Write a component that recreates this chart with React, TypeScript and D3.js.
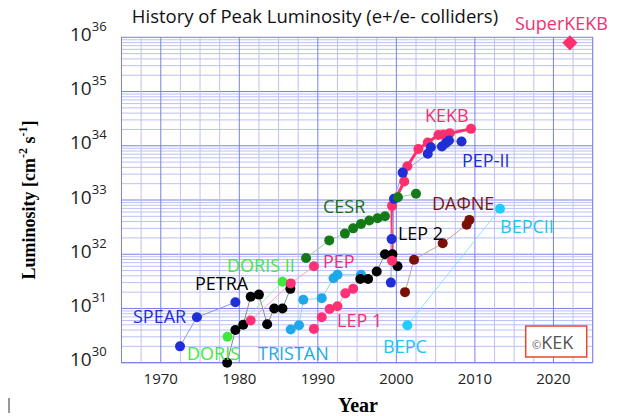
import React from "react";
import * as d3 from "d3";

// peak luminosity per machine: [year, cm^-2 s^-1]
const SPEAR = [[1972.45, 2e30], [1974.6, 6.9e30], [1979.5, 1.3e31]];
const DORIS = [[1978.5, 3e30], [1985.5, 3.1e31]];
const PETRA = [
	[1978.45, 1e30], [1979.5, 4e30], [1980.5, 5e30], [1981.45, 1.65e31], [1982.5, 1.8e31],
	[1983.55, 5.1e30], [1984.45, 1e31], [1985.5, 1e31], [1986.5, 2.3e31],
];
const PEP = [[1981.45, 6e30], [1986.55, 2.9e31], [1989.5, 6e31]];
const CESR = [
	[1988.5, 8.5e31], [1991.45, 1.8e32], [1993.45, 2.4e32], [1994.5, 3e32], [1995.5, 3.6e32],
	[1996.55, 4.2e32], [1997.6, 4.6e32], [1998.55, 5e32], [2000.2, 1.12e33], [2002.5, 1.3e33],
];
const TRISTAN = [
	[1986.55, 4.1e30], [1987.6, 4.9e30], [1988.15, 1.45e31], [1990.5, 1.55e31],
	[1992.0, 3.6e31], [1992.5, 4.2e31], [1995.5, 4.2e31],
];
const LEP1 = [[1989.5, 4.2e30], [1990.5, 6.9e30], [1991.5, 9.8e30], [1992.5, 1.1e31], [1993.5, 1.9e31], [1994.5, 2.3e31]];
const LEP2 = [[1995.4, 3.5e31], [1996.4, 3.5e31], [1997.5, 4.8e31], [1998.55, 1e32], [1999.5, 1e32], [2000.15, 6e31]];
const KEKB = [
	[1999.45, 7.6e31], [1999.45, 7.8e32], [2001.0, 2.2e33], [2001.4, 4.2e33], [2002.8, 8.7e33],
	[2004.0, 1.15e34], [2005.35, 1.58e34], [2006.0, 1.6e34], [2006.8, 1.7e34], [2009.5, 2.05e34],
];
const PEPII = [
	[1999.3, 3e31], [1999.4, 1.9e32], [1999.7, 1.05e33], [2000.8, 3.2e33], [2004.0, 7.1e33],
	[2004.4, 9.4e33], [2005.8, 9.7e33], [2006.3, 1.12e34], [2006.7, 1.25e34], [2008.3, 1.2e34],
];
const DAPHNE = [[2001.1, 2e31], [2002.25, 7.9e31], [2005.9, 1.6e32], [2008.95, 3.5e32], [2009.3, 4.3e32]];
const BEPC = [[2001.4, 4.9e30], [2013.2, 6.9e32]];
const SUPERKEKB = [[2022.1, 7.9e35]];

const yearTicks = [1970, 1980, 1990, 2000, 2010, 2020];
const decades = [30, 31, 32, 33, 34, 35, 36];

// label anchors in data coordinates (left edge, baseline)
const labels = [
	{ text: "SuperKEKB", year: 2015.1, lum: 1.36e36, color: "#f5306e" },
	{ text: "KEKB", year: 2003.65, lum: 2.75e34, color: "#f5306e" },
	{ text: "PEP-II", year: 2008.36, lum: 4.1e33, color: "#1f2ed6" },
	{ text: "CESR", year: 1990.66, lum: 5.8e32, color: "#16701a" },
	{ text: "DAΦNE", year: 2004.54, lum: 6.6e32, color: "#7a1410" },
	{ text: "BEPCII", year: 2013.2, lum: 2.5e32, color: "#22c4f8" },
	{ text: "LEP 2", year: 2000.2, lum: 1.85e32, color: "#000" },
	{ text: "DORIS II", year: 1978.43, lum: 4.8e31, color: "#3ee83e" },
	{ text: "PEP", year: 1990.66, lum: 5.6e31, color: "#f5306e" },
	{ text: "PETRA", year: 1974.36, lum: 2.2e31, color: "#000" },
	{ text: "SPEAR", year: 1966.46, lum: 5.5e30, color: "#1f2ed6" },
	{ text: "LEP 1", year: 1992.44, lum: 4.6e30, color: "#f5306e" },
	{ text: "DORIS", year: 1973.34, lum: 1.14e30, color: "#3ee83e" },
	{ text: "TRISTAN", year: 1982.38, lum: 1.14e30, color: "#1ea8ea" },
	{ text: "BEPC", year: 1998.3, lum: 1.53e30, color: "#22c4f8" },
];

const series = [
	{ data: SPEAR, dot: "#1f2ed6", line: "#8c94ee", lw: 1 },
	{ data: DORIS, dot: "#3ee83e", line: "#a6f0a6", lw: 1 },
	{ data: PETRA, dot: "#000", line: "#8a8a8a", lw: 1 },
	{ data: PEP, dot: "#ff2f78", line: "#ffa0bf", lw: 1 },
	{ data: TRISTAN, dot: "#1ea8ea", line: "#8fd3f5", lw: 1 },
	{ data: LEP1, dot: "#ff2f78", line: "#ffa0bf", lw: 1 },
	{ data: LEP2, dot: "#000", line: "#8a8a8a", lw: 1 },
	{ data: DAPHNE, dot: "#7a1008", line: "#c8a09c", lw: 1 },
	{ data: BEPC, dot: "#22ccff", line: "#8fe2ff", lw: 1 },
	{ data: KEKB, dot: "#ff2f6e", line: "#ff2f6e", lw: 3 },
	{ data: PEPII, dot: "#1f2ed6", line: "#97a2ee", lw: 1 },
	{ data: CESR, dot: "#137a16", line: "#9ccc9c", lw: 1 },
];

const x = d3.scaleLinear().domain([1965, 2025]).range([121.5, 592.7]);
const y = d3.scaleLog().domain([1e30, 1e36]).range([362.7, 37.3]);

const line = d3
	.line<number[]>()
	.x((d) => x(d[0]))
	.y((d) => y(d[1]));

const sans = "'Open Sans', 'Noto Sans', sans-serif";

export default function App() {
	const [x0, x1] = x.range();
	const [y0, y1] = y.range();
	const vGrid = d3.range(1965, 2025.01, 2.5);
	const hGrid: { v: number; major: boolean }[] = [];
	decades.slice(0, -1).forEach((p) => {
		for (let k = 1; k <= 9; k++) hGrid.push({ v: k * Math.pow(10, p), major: k === 1 });
	});
	// rotated square for the SuperKEKB target
	const diamond = d3.symbol().type(d3.symbolSquare).size(115)();

	return (
		<svg width={619} height={416} style={{ position: "absolute", left: 0, top: 0 }}>
			<rect width={619} height={416} fill="#fff" />
			<g>
				{hGrid.map((g, i) => (
					<line key={"h" + i} x1={x0} x2={x1} y1={y(g.v)} y2={y(g.v)}
						stroke={g.major ? "#7880ea" : "#bcc0f6"} strokeWidth={1} />
				))}
				{vGrid.map((v, i) => (
					<line key={"v" + i} x1={x(v)} x2={x(v)} y1={y1} y2={y0}
						stroke={v % 10 === 0 ? "#7880ea" : "#bcc0f6"} strokeWidth={1} />
				))}
				<rect x={x0} y={y1} width={x1 - x0} height={y0 - y1} fill="none" stroke="#7880ea" />
			</g>
			{decades.map((p) => (
				<text key={p} x={70} y={y(Math.pow(10, p)) + 3.5} fontFamily={sans} fontSize={19} fill="#222">
					10<tspan dy={-10} fontSize={13}>{p}</tspan>
				</text>
			))}
			{yearTicks.map((t) => (
				<text key={t} x={x(t)} y={384} textAnchor="middle" fontFamily={sans} fontSize={15} fill="#222">
					{t}
				</text>
			))}
			<text transform="translate(35,200) rotate(-90)" textAnchor="middle"
				fontFamily="'Liberation Serif', 'Times New Roman', serif" fontWeight="bold" fontSize={18}>
				Luminosity [cm<tspan dy={-8} fontSize={12}>-2</tspan>
				<tspan dy={8}> s</tspan><tspan dy={-8} fontSize={12}>-1</tspan><tspan dy={8}>]</tspan>
			</text>
			<text x={358} y={412} textAnchor="middle"
				fontFamily="'Liberation Serif', 'Times New Roman', serif" fontWeight="bold" fontSize={20}>
				Year
			</text>
			<text x={315} y={23} textAnchor="middle" fontFamily={sans} fontSize={18.5} fill="#111">
				History of Peak Luminosity (e+/e- colliders)
			</text>
			{series.map((s, i) => (
				<path key={"l" + i} d={line(s.data) || ""} fill="none" stroke={s.line} strokeWidth={s.lw} />
			))}
			{series.map((s, i) => (
				<g key={"p" + i}>
					{s.data.map((d, j) => (
						<circle key={j} cx={x(d[0])} cy={y(d[1])} r={5} fill={s.dot} />
					))}
				</g>
			))}
			{SUPERKEKB.map((d, i) => (
				<path key={i} d={diamond || ""} transform={`translate(${x(d[0])},${y(d[1])}) rotate(45)`} fill="#ff2f6e" />
			))}
			{labels.map((l) => (
				<text key={l.text} x={x(l.year)} y={y(l.lum)} fontFamily={sans} fontSize={18} fill={l.color}>
					{l.text}
				</text>
			))}
			<rect x={525.7} y={326} width={61} height={31} fill="#fff" stroke="#e8482a" strokeWidth={1.5} />
			<text x={532} y={349} fontFamily={sans} fill="#555">
				<tspan fontSize={11}>©</tspan>
				<tspan fontSize={18}>KEK</tspan>
			</text>
			<line x1={9} x2={9} y1={398} y2={413} stroke="#777" strokeWidth={1.5} />
		</svg>
	);
}
